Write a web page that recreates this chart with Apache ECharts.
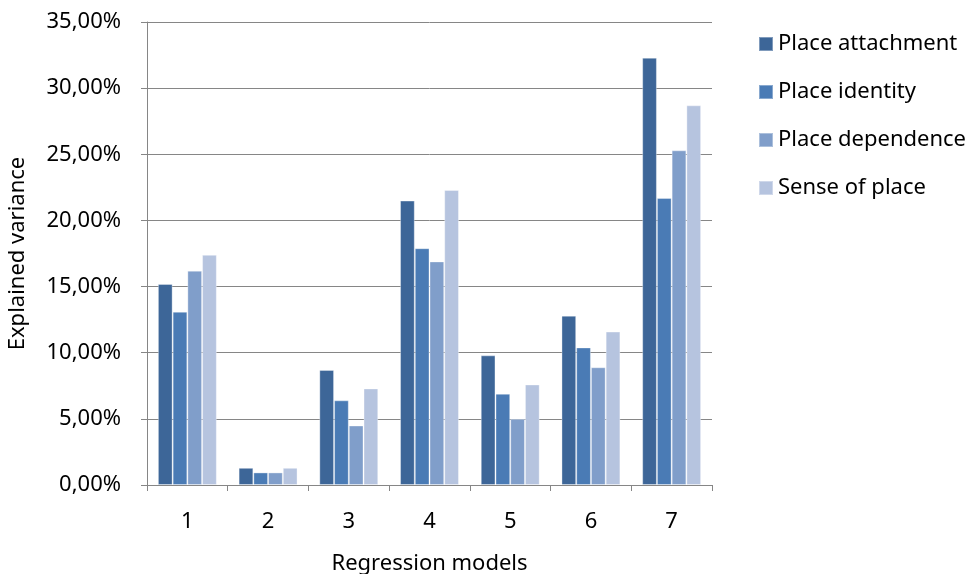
<!DOCTYPE html>
<html>
<head>
<meta charset="utf-8">
<script src="https://cdn.jsdelivr.net/npm/echarts@6/dist/echarts.min.js"></script>
<style>html,body{margin:0;padding:0;background:#fff}#c{width:972px;height:574px}</style>
</head>
<body>
<div id="c"></div>
<script>
const categories = ['1','2','3','4','5','6','7'];
const seriesNames = ['Place attachment','Place identity','Place dependence','Sense of place'];
const placeAttachment = [15.2, 1.3, 8.7, 21.5, 9.8, 12.8, 32.3];
const placeIdentity   = [13.1, 0.95, 6.4, 17.9, 6.9, 10.4, 21.7];
const placeDependence = [16.2, 0.95, 4.5, 16.9, 5.0, 8.9, 25.3];
const senseOfPlace    = [17.4, 1.3, 7.3, 22.3, 7.6, 11.6, 28.7];
const yTicks = {min: 0, max: 35, interval: 5};

const colors = ['#3D6698', '#4A7BB5', '#809ECA', '#B6C4DF'];
const font = 'Noto Sans, sans-serif';
const seriesData = [placeAttachment, placeIdentity, placeDependence, senseOfPlace];

const chart = echarts.init(document.getElementById('c'), null, {renderer: 'canvas'});
chart.setOption({
  animation: false,
  backgroundColor: '#fff',
  color: colors,
  grid: {left: 147, right: 260, top: 22, bottom: 89, containLabel: false, outerBoundsMode: 'none'},
  legend: {
    orient: 'vertical', left: 753, top: 28,
    itemWidth: 14, itemHeight: 14, itemGap: 26,
    icon: 'rect',
    textStyle: {fontFamily: font, fontSize: 22, color: '#000', padding: [0,0,0,0]},
    data: seriesNames
  },
  xAxis: {
    type: 'category', data: categories,
    name: 'Regression models', nameLocation: 'middle', nameGap: 68,
    nameTextStyle: {fontFamily: font, fontSize: 22, color: '#000'},
    axisLine: {lineStyle: {color: '#868686', width: 1}},
    axisTick: {show: true, length: 6, lineStyle: {color: '#868686'}},
    axisLabel: {fontFamily: font, fontSize: 22, color: '#000', margin: 26}
  },
  yAxis: {
    type: 'value', min: yTicks.min, max: yTicks.max, interval: yTicks.interval,
    name: 'Explained variance', nameLocation: 'middle', nameGap: 118, nameRotate: 90,
    nameTextStyle: {fontFamily: font, fontSize: 22, color: '#000'},
    axisLine: {show: true, lineStyle: {color: '#868686', width: 1}},
    axisTick: {show: true, length: 6, lineStyle: {color: '#868686'}},
    splitLine: {show: true, lineStyle: {color: '#868686', width: 1}},
    axisLabel: {fontFamily: font, fontSize: 22, color: '#000', margin: 26,
      formatter: v => v.toFixed(2).replace('.', ',') + '%'}
  },
  series: seriesNames.map((n, i) => ({
    name: n, type: 'bar', data: seriesData[i],
    barGap: '0%', barCategoryGap: '27%',
    itemStyle: {color: colors[i], borderColor: 'rgba(255,255,255,0.35)', borderWidth: 1}
  }))
});
</script>
</body>
</html>
